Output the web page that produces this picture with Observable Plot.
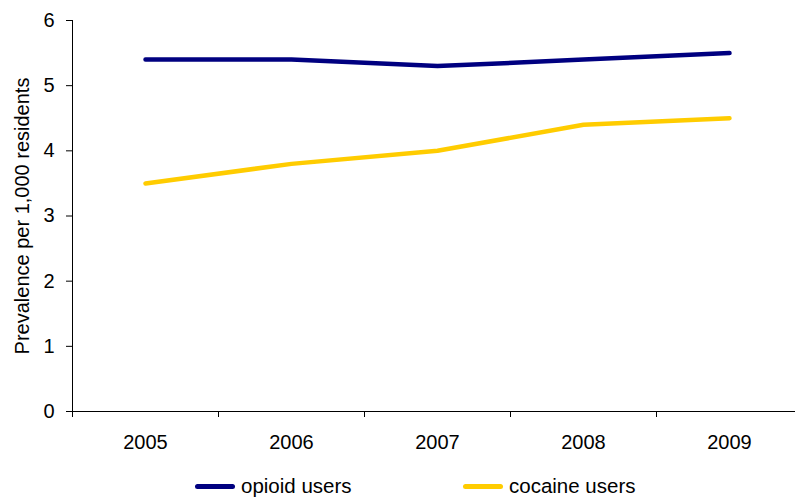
<!DOCTYPE html>
<html>
<head>
<meta charset="utf-8">
<script src="https://cdn.jsdelivr.net/npm/d3@7"></script>
<script src="https://cdn.jsdelivr.net/npm/@observablehq/plot@0.6"></script>
<style>
  html, body { margin: 0; padding: 0; background: #fff; }
  body { width: 795px; font-family: "Liberation Sans", Arial, sans-serif; }
  #legend { position: relative; height: 42px; font-size: 20.5px; color: #000; }
  .item { position: absolute; top: 0; height: 42px; display: flex; align-items: center; }
  .swatch { width: 40px; height: 5px; border-radius: 3px; margin-right: 6px; }
</style>
</head>
<body>
<div id="chart"></div>
<div id="legend"></div>
<script>
// Prevalence of problem drug use per 1,000 residents, 2005–2009
const years = [2005, 2006, 2007, 2008, 2009];
const opioidUsers = [5.4, 5.4, 5.3, 5.4, 5.5];
const cocaineUsers = [3.5, 3.8, 4.0, 4.4, 4.5];
const seriesNames = ["opioid users", "cocaine users"];
const seriesColors = ["#000080", "#FFCC00"];
const yTicks = [0, 1, 2, 3, 4, 5, 6];
const yTitle = "Prevalence per 1,000 residents";

// long-format table for the line mark
const rows = [
  ...years.map((year, i) => ({year, value: opioidUsers[i], series: seriesNames[0]})),
  ...years.map((year, i) => ({year, value: cocaineUsers[i], series: seriesNames[1]}))
];

// category boundaries: ticks sit between the years
const edges = [...years.map(y => y - 0.5), years[years.length - 1] + 0.5];

const font = "'Liberation Sans', Arial, sans-serif";

const chart = Plot.plot({
  width: 795,
  height: 465,
  marginLeft: 72,
  marginRight: 0,
  marginTop: 20,
  marginBottom: 54,
  style: {fontFamily: font, fontSize: "20px", color: "#000", background: "#fff"},
  x: {domain: [edges[0], edges[edges.length - 1]], range: [72, 802]},
  y: {domain: [0, 6]},
  color: {domain: seriesNames, range: seriesColors},
  marks: [
    Plot.axisY({ticks: yTicks, tickSize: 6, tickPadding: 12, tickFormat: d => String(d), label: null, fontSize: 20, stroke: "#000"}),
    Plot.axisX({ticks: edges, tickSize: 6, tickFormat: () => "", label: null, stroke: "#000"}),
    Plot.axisX({ticks: years, tickSize: 0, tickPadding: 23, tickFormat: d => String(d), label: null, fontSize: 20}),
    Plot.ruleY([0], {stroke: "#000", strokeWidth: 1}),
    Plot.ruleX([edges[0]], {stroke: "#000", strokeWidth: 1}),
    Plot.line(rows, {x: "year", y: "value", z: "series", stroke: "series", strokeWidth: 4.5, strokeLinecap: "round", strokeLinejoin: "round"}),
    Plot.text([yTitle], {frameAnchor: "left", rotate: -90, dx: -50, textAnchor: "middle", lineAnchor: "middle", fontSize: 20, fill: "#000"})
  ]
});
document.getElementById("chart").appendChild(chart);

// legend below the chart
const legend = document.getElementById("legend");
const legendLeft = [195, 463];
seriesNames.forEach((name, i) => {
  const item = document.createElement("div");
  item.className = "item";
  item.style.left = legendLeft[i] + "px";
  const sw = document.createElement("span");
  sw.className = "swatch";
  sw.style.background = seriesColors[i];
  const label = document.createElement("span");
  label.textContent = name;
  item.appendChild(sw);
  item.appendChild(label);
  legend.appendChild(item);
});
</script>
</body>
</html>
